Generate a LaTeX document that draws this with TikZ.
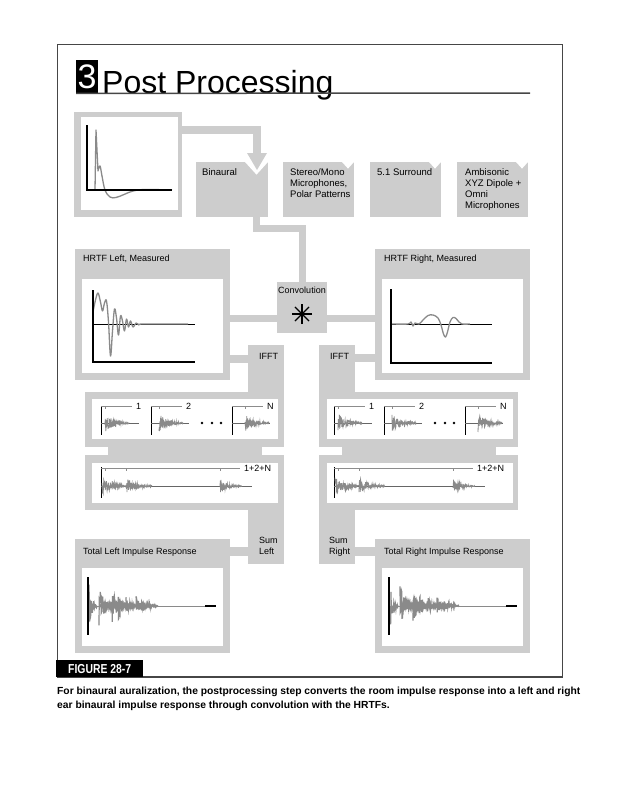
\documentclass[tikz,border=0pt]{standalone}
\usepackage{fontspec}
\setmainfont{Liberation Sans}
\usepackage{tikz}
\usetikzlibrary{arrows.meta, positioning, calc, backgrounds}
\definecolor{boxgray}{RGB}{205,205,205}
\definecolor{siggray}{RGB}{138,138,138}
\definecolor{framegray}{RGB}{70,70,70}
% noisy decaying burst: x, y, length, amplitude
\newcommand{\burst}[4]{\pgfmathtruncatemacro{\ns}{4*#3}%
  \draw[burstline] plot[domain=0:#3, samples=\ns, variable=\t] ({#1+\t},{#2+#4*exp(-2.5*\t/#3)*rand});}
% one partial response: name, x, y, burst offset, label
\newcommand{\partresp}[5]{%
  \draw[line width=1pt] (#2,#3) -- ++(0,29);
  \draw[brk] (#2,#3) -- ++(31,0) (#2+#4,#3) -- ++(0,3);
  \draw[black!60, line width=0.5pt] (#2,#3+17) -- ++(38,0);
  \burst{#2+#4}{#3+17}{24}{9}
  \node[lbl, anchor=west] (#1) at (#2+35,#3) {#5};}

\begin{document}
\begin{tikzpicture}[x=1pt, y=-1pt,
		panel/.style={fill=boxgray, inner sep=0pt, outer sep=0pt, anchor=north west},
		plotarea/.style={fill=white, inner sep=0pt, outer sep=0pt, anchor=north west},
		lbl/.style={font=\fontsize{9}{11}\selectfont, align=left, inner sep=0pt, anchor=north west},
		toplbl/.style={lbl, font=\fontsize{9.5}{11}\selectfont},
		notch/.style={path picture={\fill[white] (path picture bounding box.north east) -- ++(-#1,0) -- ++(#1/2,#1*0.55) -- cycle;}},
		bar/.style={draw=boxgray, line width=7pt},
		axis/.style={line width=1.5pt, black},
		trace/.style={draw=siggray, line width=1.3pt, line join=round},
		burstline/.style={draw=siggray, line width=0.8pt},
		brk/.style={draw=black!45, line width=0.5pt}]
	\useasboundingbox (0,0) rectangle (636,800);
	\pgfmathsetseed{7}
	% frame and title
	\draw[framegray, line width=0.8pt] (57,44) rectangle (562,677);
	\draw[framegray, line width=2pt] (57,677) -- (562,677);
	\node[fill=black, text=white, inner sep=0pt, minimum width=22, minimum height=33, anchor=north west, font=\fontsize{34}{34}\selectfont] (num) at (76,60) {3};
	\node[anchor=base west, inner sep=0pt, font=\fontsize{32}{32}\selectfont] (title) at (102,93) {Post Processing};
	\draw[framegray, line width=1.5pt] (num.south west) -- (530,93);

	% room impulse response
	\node[panel, minimum width=108, minimum height=105] (ir) at (74,112) {};
	\node[plotarea, minimum width=97, minimum height=93] (irplot) at (81,117) {};
	\draw[trace] (95,190) -- (96,130) -- (98,171) -- plot[smooth, tension=0.6] coordinates {(98,171) (100,166) (102,176) (105,190) (110,197) (116,197.5) (124,194.5) (133,191) (145,189.5) (172,190)};
	\draw[axis] (87,125) -- (87,190) -- (172,190);

	% output formats
	\node[panel, notch=23, minimum width=72, minimum height=55] (bin) at (196,162) {};
	\node[panel, notch=12, minimum width=71, minimum height=55] (stereo) at (283,162) {};
	\node[panel, notch=12, minimum width=71, minimum height=55] (surround) at (370,162) {};
	\node[panel, notch=12, minimum width=71, minimum height=55] (ambi) at (457,162) {};
	\node[toplbl] (binT) at (202,168) {Binaural};
	\node[toplbl] (stereoT) at (290,168) {Stereo/Mono\\Microphones,\\Polar Patterns};
	\node[toplbl] (surroundT) at (377,168) {5.1 Surround};
	\node[toplbl] (ambiT) at (465,168) {Ambisonic\\XYZ Dipole +\\Omni\\Microphones};
	\draw[bar, line width=8pt, -{Triangle[width=20pt, length=17pt, line width=0pt]}] ($(ir.north east)+(-1,18)$) -| ($(bin.north east)+(-11,8)$);

	% HRTFs and convolution
	\node[panel, minimum width=155, minimum height=131] (hrtfL) at (75,249) {};
	\node[plotarea, minimum width=141, minimum height=94] (hrtfLplot) at (82,279) {};
	\node[lbl] (hrtfLT) at (83,255) {HRTF Left, Measured};
	\node[panel, minimum width=155, minimum height=131] (hrtfR) at (375,249) {};
	\node[plotarea, minimum width=141, minimum height=94] (hrtfRplot) at (382,279) {};
	\node[lbl] (hrtfRT) at (384,255) {HRTF Right, Measured};
	\node[panel, minimum width=50, minimum height=51] (conv) at (277,282) {};
	\node[lbl, anchor=north] (convT) at ($(conv.north)+(0,5)$) {Convolution};
	\coordinate (star) at ($(conv.center)+(0,6.5)$);
	\foreach \a in {0,45,90,135}
		\draw[line width=1.2pt] ($(star)+(\a:10)$) -- ($(star)+(\a+180:10)$);

	\draw[black, line width=0.8pt] (93,324) -- (195,324);
	\draw[trace] plot[smooth, tension=0.6] coordinates {(93,312) (95.5,300) (98,293) (100.5,302) (102.5,311) (104.5,303) (106.5,301) (108.5,322) (110.5,356) (112.5,331) (114.5,309) (116.5,318) (118.5,335) (120.5,316) (122.5,321) (124.5,331) (126.5,319) (128.5,327) (130.5,321) (133,327) (136,323) (139,325) (143,324) (188,324)};
	\draw[axis] (93,290) -- (93,362) -- (195,362);
	\draw[black, line width=0.8pt] (391,324) -- (492,324);
	\draw[trace] plot[smooth, tension=0.6] coordinates {(391,324) (408,324) (411,322) (413,326) (415,323) (419,324) (423,320) (428,315.5) (433,315) (438,318) (441,325) (443.5,334) (445.5,337) (447.5,332) (450,322) (453,317.5) (456,318.5) (459,322) (462,324) (470,324)};
	\draw[axis] (391,289) -- (391,363) -- (492,363);

	% IFFT, partial responses, sums
	\node[panel, minimum width=36, minimum height=50] (ifftL) at (248,345) {};
	\node[panel, minimum width=36, minimum height=50] (ifftR) at (319,345) {};
	\node[lbl] (ifftLT) at (259,353) {IFFT};
	\node[lbl] (ifftRT) at (330,353) {IFFT};
	\node[panel, minimum width=199, minimum height=55] (serL) at (85,392) {};
	\node[panel, minimum width=199, minimum height=55] (serR) at (319,392) {};
	\node[panel, minimum width=199, minimum height=55] (sumL) at (85,455) {};
	\node[panel, minimum width=199, minimum height=55] (sumR) at (319,455) {};
	\fill[boxgray] ($(serL.south west)+(23,-1)$) rectangle ($(sumL.north east)+(-22,1)$);
	\fill[boxgray] ($(serR.south west)+(23,-1)$) rectangle ($(sumR.north east)+(-22,1)$);
	\node[plotarea, minimum width=186, minimum height=40] (serLplot) at (92,399) {};
	\node[plotarea, minimum width=186, minimum height=40] (serRplot) at (327,399) {};
	\node[plotarea, minimum width=186, minimum height=40] (sumLplot) at (92,463) {};
	\node[plotarea, minimum width=186, minimum height=40] (sumRplot) at (327,463) {};
	\node[panel, minimum width=36, minimum height=59] (sumLcol) at (248,505) {};
	\node[panel, minimum width=36, minimum height=59] (sumRcol) at (319,505) {};
	\node[lbl] (sumLT) at (259,537) {Sum\\Left};
	\node[lbl] (sumRT) at (329,537) {Sum\\Right};

	\foreach \s/\side in {0/L,233/R} {
		\begin{scope}[xshift=\s]
			\partresp{one\side}{101}{406}{4}{1}
			\partresp{two\side}{151}{406}{8}{2}
			\partresp{enn\side}{232}{406}{13}{N}
			\foreach \d in {202,212,221}
				\fill (\d,423) circle (1.4);
			\draw[line width=1pt] (101,467) -- (101,498);
			\draw[brk] (101,468) -- (240,468) (105,468) -- ++(0,3) (126,468) -- ++(0,3) (220,468) -- ++(0,3);
			\draw[black!60, line width=0.5pt] (101,486) -- (252,486);
			\burst{102}{486}{22}{9}
			\burst{112}{486}{14}{6}
			\burst{126}{486}{26}{8}
			\burst{220}{486}{22}{7}
			\node[lbl, anchor=west] (total\side) at (244,468) {1+2+N};
		\end{scope}
	}

	% total impulse responses
	\node[panel, minimum width=155, minimum height=114] (totL) at (75,539) {};
	\node[plotarea, minimum width=141, minimum height=78] (totLplot) at (82,568) {};
	\node[lbl] (totLT) at (83,548) {Total Left Impulse Response};
	\node[panel, minimum width=155, minimum height=114] (totR) at (375,539) {};
	\node[plotarea, minimum width=141, minimum height=78] (totRplot) at (382,568) {};
	\node[lbl] (totRT) at (384,548) {Total Right Impulse Response};
	\foreach \s in {0,301} {
		\begin{scope}[xshift=\s, burstline/.append style={line width=1.2pt}]
			\draw[siggray, line width=0.8pt] (88,606) -- (205,606);
			\draw[line width=2pt] (205,606) -- (216,606);
			\burst{89}{606}{8}{22}
			\burst{99}{606}{14}{22}
			\burst{112}{606}{12}{17}
			\burst{118}{606}{10}{15}
			\burst{126}{606}{10}{12}
			\burst{136}{606}{10}{10}
			\burst{141}{606}{16}{7}
			\burst{100}{606}{58}{5}
			\draw[line width=2pt] (88,577) -- (88,635);
		\end{scope}
	}

	% connectors
	\begin{scope}[on background layer]
		\draw[bar] ($(bin.south east)+(-11.5,-1)$) -- ++(0,12.5) -| ($(conv.north)+(0,1)$);
		\draw[bar] ($(hrtfL.east |- conv.center)+(-1,10.5)$) -- ($(hrtfR.west |- conv.center)+(1,10.5)$);
		\draw[bar, line width=8pt] ($(hrtfL.east |- ifftL.north)+(-1,13.5)$) -- ($(ifftL.north west)+(1,13.5)$);
		\draw[bar, line width=8pt] ($(ifftR.north east)+(-1,12.5)$) -- ($(hrtfR.west |- ifftR.north)+(1,12.5)$);
		\draw[bar, line width=9pt] ($(sumLcol.west |- totL.north)+(1,12)$) -- ($(totL.north east)+(-1,12)$);
		\draw[bar, line width=9pt] ($(sumRcol.east |- totR.north)+(-1,12)$) -- ($(totR.north west)+(1,12)$);
	\end{scope}

	% footer
	\node[fill=black, text=white, inner sep=0pt, minimum width=87, minimum height=17, anchor=north west, font=\bfseries\fontsize{13}{13}\selectfont] (fig) at (56,660) {\scalebox{0.8}[1]{FIGURE 28-7}};
	\node[anchor=north west, align=left, inner sep=0pt, font=\bfseries\fontsize{10.3}{14}\selectfont] (caption) at (57,687) {For binaural auralization, the postprocessing step converts the room impulse response into a left and right\\ear binaural impulse response through convolution with the HRTFs.};
\end{tikzpicture}
\end{document}
